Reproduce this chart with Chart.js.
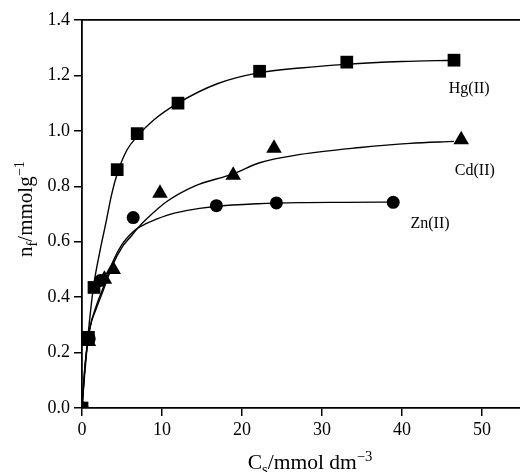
<!DOCTYPE html>
<html>
<head>
<meta charset="utf-8">
<script src="https://cdn.jsdelivr.net/npm/chart.js@4.4.1/dist/chart.umd.min.js"></script>
<style>
    html, body { margin: 0; padding: 0; background: #fff; overflow: hidden; }
    canvas { display: block; }
</style>
</head>
<body>
<canvas id="chart" width="520" height="472"></canvas>
<script>
// Datos medidos (marcadores)
const hgX = [0, 0.8, 1.5, 4.4, 6.9, 12.0, 22.2, 33.1, 46.5];
const hgY = [0, 0.255, 0.435, 0.86, 0.99, 1.10, 1.215, 1.248, 1.255];
const cdX = [0, 0.8, 2.8, 3.9, 9.75, 18.9, 24.0, 47.4];
const cdY = [0, 0.24, 0.465, 0.50, 0.775, 0.84, 0.937, 0.968];
const znX = [0, 0.9, 2.3, 6.4, 16.8, 24.3, 38.9];
const znY = [0, 0.25, 0.46, 0.687, 0.73, 0.74, 0.742];

// Curvas ajustadas
const hgCurveX = [0, 0.3, 0.75, 1.4, 2.2, 3.0, 3.7, 4.4, 5.6, 6.9, 9, 12, 16.9, 22.2, 27.3, 33, 40, 46.5];
const hgCurveY = [0, 0.11, 0.26, 0.43, 0.56, 0.67, 0.77, 0.845, 0.93, 0.98, 1.04, 1.10, 1.17, 1.21, 1.227, 1.24, 1.25, 1.255];
const cdCurveX = [0, 0.4, 1, 1.8, 2.6, 3.9, 5, 6, 7, 8, 10.6, 14, 18.9, 22.2, 27.3, 34.8, 41, 46.5];
const cdCurveY = [0, 0.16, 0.29, 0.36, 0.42, 0.52, 0.58, 0.615, 0.65, 0.68, 0.745, 0.8, 0.845, 0.885, 0.915, 0.94, 0.955, 0.962];
const znCurveX = [0, 0.4, 1, 1.8, 2.6, 3.9, 5, 6, 7, 8, 10.6, 13, 16.6, 22, 27.3, 33, 38.9];
const znCurveY = [0, 0.16, 0.29, 0.37, 0.43, 0.53, 0.59, 0.625, 0.65, 0.665, 0.695, 0.712, 0.727, 0.737, 0.741, 0.742, 0.743];

const xTicks = [0, 10, 20, 30, 40, 50];
const yTicks = [0, 0.2, 0.4, 0.6, 0.8, 1.0, 1.2, 1.4];

// Etiquetas de las series en coordenadas de datos
const seriesLabels = ['Hg(II)', 'Cd(II)', 'Zn(II)'];
const labelX = [48.4, 49.1, 43.5];
const labelY = [1.151, 0.856, 0.665];

const FONT = '"Liberation Serif", "Times New Roman", serif';

function pts(xs, ys) {
    return xs.map((x, i) => ({ x: x, y: ys[i] }));
}

function curve(xs, ys) {
    return {
        data: pts(xs, ys),
        showLine: true,
        borderColor: '#000',
        borderWidth: 1.4,
        pointRadius: 0,
        cubicInterpolationMode: 'monotone',
        order: 1
    };
}

function markers(xs, ys, style, r) {
    return {
        data: pts(xs, ys),
        showLine: false,
        pointStyle: style,
        pointRadius: r,
        backgroundColor: '#000',
        borderColor: '#000',
        borderWidth: 0,
        order: 0
    };
}

// Dibuja texto con subíndice / superíndice
function drawRich(ctx, parts, size) {
    let w = 0;
    parts.forEach(p => {
        ctx.font = (p.s ? size * 0.68 : size) + 'px ' + FONT;
        p.w = ctx.measureText(p.t).width;
        w += p.w;
    });
    let x = -w / 2;
    parts.forEach(p => {
        ctx.font = (p.s ? size * 0.68 : size) + 'px ' + FONT;
        const dy = p.s === 'sub' ? size * 0.25 : p.s === 'sup' ? -size * 0.38 : 0;
        ctx.fillText(p.t, x, dy);
        x += p.w;
    });
}

const textPlugin = {
    id: 'textPlugin',
    afterDraw(chart) {
        const ctx = chart.ctx;
        const xs = chart.scales.x, ys = chart.scales.y;
        ctx.save();
        ctx.fillStyle = '#000';
        ctx.textBaseline = 'alphabetic';
        ctx.textAlign = 'left';

        // Título eje X
        ctx.save();
        ctx.translate(310, 469);
        drawRich(ctx, [{ t: 'C' }, { t: 's', s: 'sub' }, { t: '/mmol dm' }, { t: '\u22123', s: 'sup' }], 21.5);
        ctx.restore();

        // Título eje Y
        ctx.save();
        ctx.translate(32, 209);
        ctx.rotate(-Math.PI / 2);
        drawRich(ctx, [{ t: 'n' }, { t: 'f', s: 'sub' }, { t: '/mmolg' }, { t: '\u22121', s: 'sup' }], 21);
        ctx.restore();

        // Etiquetas de series
        ctx.font = '16px ' + FONT;
        ctx.textAlign = 'center';
        ctx.textBaseline = 'middle';
        seriesLabels.forEach((t, i) => {
            ctx.fillText(t, xs.getPixelForValue(labelX[i]), ys.getPixelForValue(labelY[i]));
        });
        ctx.restore();
    }
};

new Chart(document.getElementById('chart'), {
    type: 'scatter',
    data: {
        datasets: [
            curve(hgCurveX, hgCurveY),
            curve(cdCurveX, cdCurveY),
            curve(znCurveX, znCurveY),
            markers(hgX, hgY, 'rect', 9),
            markers(cdX, cdY, 'triangle', 9),
            markers(znX, znY, 'circle', 6.5)
        ]
    },
    options: {
        responsive: false,
        animation: false,
        // sin autoPadding: el eje X llega hasta el borde derecho
        layout: { autoPadding: false, padding: { top: 20, right: 0, left: 0, bottom: 0 } },
        plugins: {
            legend: { display: false },
            tooltip: { enabled: false }
        },
        scales: {
            x: {
                type: 'linear',
                min: 0,
                max: 54.75,
                afterFit: s => { s.height = 64; s.paddingLeft = 0; s.paddingRight = 0; },
                afterBuildTicks: s => { s.ticks = xTicks.map(v => ({ value: v })); },
                ticks: {
                    color: '#000',
                    font: { family: FONT, size: 18 },
                    padding: 3,
                    maxRotation: 0
                },
                grid: { display: true, drawOnChartArea: false, drawTicks: true, tickLength: 8, color: '#000', lineWidth: 1.5 },
                border: { display: true, color: '#000', width: 1.8 }
            },
            x2: {
                type: 'linear',
                position: 'top',
                min: 0,
                max: 54.75,
                afterFit: s => { s.height = 0; s.paddingLeft = 0; s.paddingRight = 0; },
                ticks: { display: false },
                grid: { display: false, drawTicks: false },
                border: { display: true, color: '#000', width: 1.8 }
            },
            y: {
                min: 0,
                max: 1.4,
                afterFit: s => { s.width = 82; s.paddingTop = 0; s.paddingBottom = 0; },
                afterBuildTicks: s => { s.ticks = yTicks.map(v => ({ value: v })); },
                ticks: {
                    color: '#000',
                    font: { family: FONT, size: 18 },
                    padding: 4,
                    callback: v => v.toFixed(1)
                },
                grid: { display: true, drawOnChartArea: false, drawTicks: true, tickLength: 8, color: '#000', lineWidth: 1.5 },
                border: { display: true, color: '#000', width: 1.8 }
            }
        }
    },
    plugins: [textPlugin]
});
</script>
</body>
</html>
